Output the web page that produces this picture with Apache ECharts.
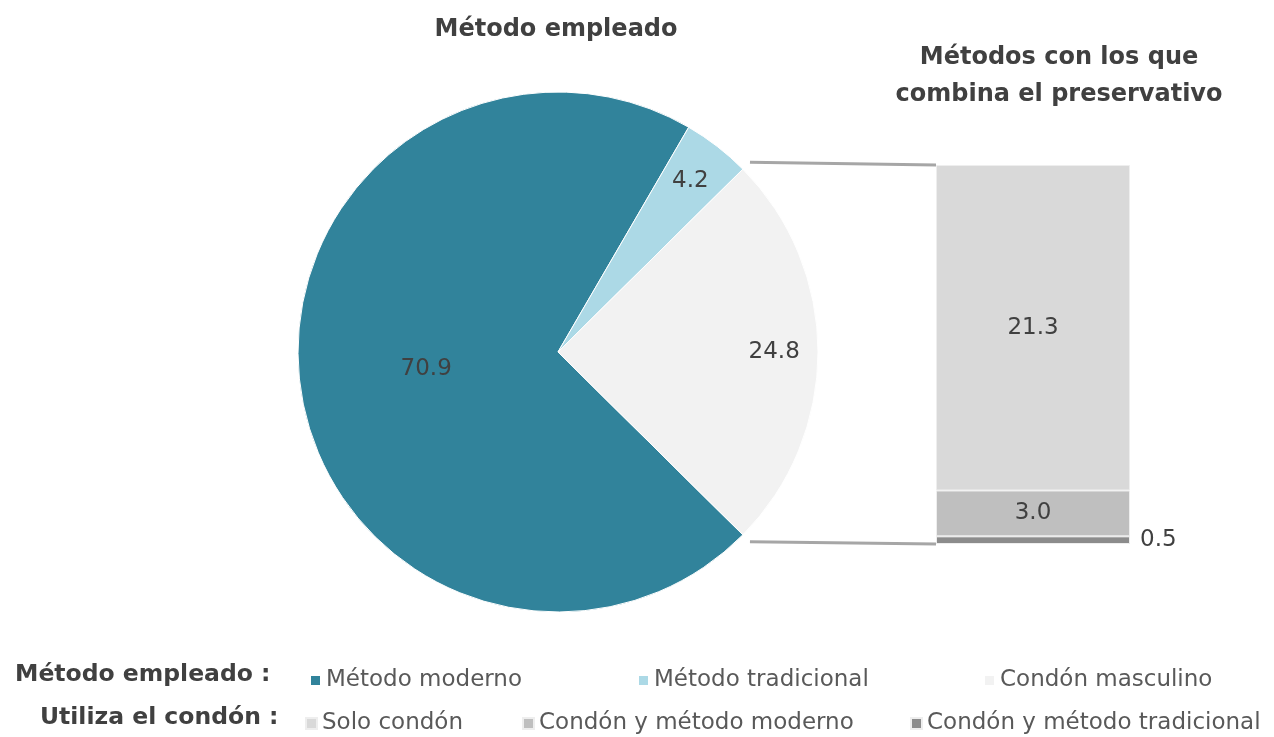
<!DOCTYPE html>
<html>
<head>
<meta charset="utf-8">
<script src="https://cdn.jsdelivr.net/npm/echarts@6/dist/echarts.min.js"></script>
<style>
html,body{margin:0;padding:0;background:#fff;}
#chart{width:1274px;height:737px;}
</style>
</head>
<body>
<div id="chart"></div>
<script>
// ---- data ----
const pieTitle = 'Método empleado';
const barTitle = 'Métodos con los que\ncombina el preservativo';
const pieCategories = ['Método moderno', 'Método tradicional', 'Condón masculino'];
const pieValues = [70.9, 4.2, 24.8];
const barCategories = ['Condón y método tradicional', 'Condón y método moderno', 'Solo condón'];
const barValues = [0.5, 3.0, 21.3];
const legendRowLabels = ['Método empleado :', 'Utiliza el condón :'];

// ---- styles ----
const pieColors = ['#31839b', '#acd9e6', '#f2f2f2'];
const barColors = ['#8c8c8c', '#bfbfbf', '#d9d9d9'];
const FONT = '"DejaVu Sans", Verdana, sans-serif';
const PIE_C = [558, 352];
const PIE_R = 260;

const pieSum = pieValues.reduce((a, b) => a + b, 0);
const barSum = barValues.reduce((a, b) => a + b, 0);
const lastShare = pieValues[pieValues.length - 1] / pieSum * 360;
const startAngle = -lastShare / 2;

const chart = echarts.init(document.getElementById('chart'), null, {renderer: 'canvas'});

const pieData = pieCategories.map((n, i) => ({name: n, value: pieValues[i], itemStyle: {color: pieColors[i]}}));

const legendPosRow1 = [304, 632, 978];
const legendPosRow2 = [300, 517, 905];
const legends = [];
const legendText = {fontFamily: FONT, fontSize: 23, color: '#595959'};
pieCategories.forEach((n, i) => legends.push({
  data: [n], left: legendPosRow1[i], top: 664, itemWidth: 11, itemHeight: 11, icon: 'rect', itemGap: 4,
  selectedMode: false, textStyle: legendText
}));
const legendRow2Order = ['Solo condón', 'Condón y método moderno', 'Condón y método tradicional'];
legendRow2Order.forEach((n, i) => legends.push({
  data: [n], left: legendPosRow2[i], top: 707, itemWidth: 11, itemHeight: 11, icon: 'rect',
  selectedMode: false, textStyle: legendText
}));

const rowLabelGraphics = [
  {type: 'text', left: 15, top: 663, style: {text: legendRowLabels[0], font: 'bold 23.5px ' + FONT, fill: '#404040'}},
  {type: 'text', left: 40, top: 706, style: {text: legendRowLabels[1], font: 'bold 23.5px ' + FONT, fill: '#404040'}}
];

const option = {
  backgroundColor: '#ffffff',
  animation: false,
  title: [
    {text: pieTitle, left: 551, top: 13, textAlign: 'center',
     textStyle: {fontFamily: FONT, fontSize: 24, fontWeight: 'bold', color: '#404040'}},
    {text: barTitle, left: 1054, top: 34, textAlign: 'center',
     textStyle: {fontFamily: FONT, fontSize: 24, fontWeight: 'bold', color: '#404040', lineHeight: 37}}
  ],
  legend: legends,
  grid: {left: 936, top: 165, width: 194, height: 379},
  xAxis: {type: 'category', data: ['x'], show: false},
  yAxis: {type: 'value', min: 0, max: barSum, show: false},
  graphic: rowLabelGraphics,
  series: [
    {
      type: 'pie', center: PIE_C, radius: PIE_R, startAngle: startAngle, clockwise: true,
      data: pieData, silent: true,
      itemStyle: {borderColor: '#ffffff', borderWidth: 1},
      label: {show: true, position: 'inside', fontFamily: FONT, fontSize: 23, color: '#404040',
        formatter: p => p.dataIndex === 0 ? p.value.toFixed(1) : ''},
      labelLine: {show: false}
    },
    {
      type: 'pie', center: PIE_C, radius: [PIE_R * 0.64, PIE_R], startAngle: startAngle, clockwise: true,
      data: pieCategories.map((n, i) => ({name: n, value: pieValues[i]})),
      silent: true,
      itemStyle: {color: 'rgba(0,0,0,0)'},
      label: {show: true, position: 'inside', fontFamily: FONT, fontSize: 23, color: '#404040',
        formatter: p => p.dataIndex === 0 ? '' : p.value.toFixed(1)},
      labelLine: {show: false}
    },
    ...barCategories.map((n, i) => ({
      name: n, type: 'bar', stack: 'b', data: [barValues[i]], barWidth: '100%', silent: true,
      itemStyle: {color: barColors[i], borderColor: '#eeeeee', borderWidth: 1},
      label: {show: true, position: i === 0 ? 'right' : 'inside', distance: 10,
        fontFamily: FONT, fontSize: 23, color: '#404040',
        formatter: p => p.value.toFixed(1)}
    }))
  ]
};
chart.setOption(option);

// connector lines from the pie's slice edges to the bar's top/bottom corners
const rad = Math.PI / 180;
const a1 = lastShare / 2 * rad;
const rOut = PIE_R + 10;
const pTop = [PIE_C[0] + rOut * Math.cos(a1), PIE_C[1] - rOut * Math.sin(a1)];
const pBot = [PIE_C[0] + rOut * Math.cos(a1), PIE_C[1] + rOut * Math.sin(a1)];
const gTop = chart.convertToPixel({gridIndex: 0}, [0, barSum]);
const gBot = chart.convertToPixel({gridIndex: 0}, [0, 0]);
const barLeft = 936;
chart.setOption({
  graphic: rowLabelGraphics.concat([
    {type: 'line', shape: {x1: pTop[0], y1: pTop[1], x2: barLeft, y2: gTop[1]}, style: {stroke: '#a6a6a6', lineWidth: 3}},
    {type: 'line', shape: {x1: pBot[0], y1: pBot[1], x2: barLeft, y2: gBot[1]}, style: {stroke: '#a6a6a6', lineWidth: 3}}
  ])
});
</script>
</body>
</html>
